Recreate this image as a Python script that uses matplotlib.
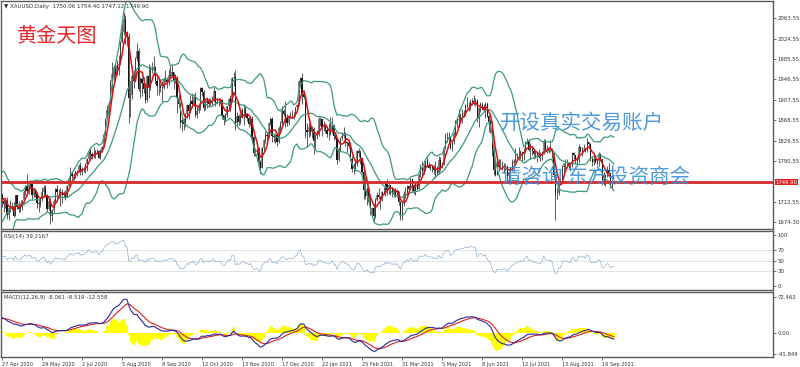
import matplotlib
matplotlib.use("Agg")
import matplotlib.pyplot as plt
import matplotlib.transforms as mtransforms
import numpy as np
import pandas as pd

# XAUUSD daily, 27 Apr 2020 - 27 Sep 2021
hist_closes = [
    1577, 1553, 1556, 1566, 1570,
    1572, 1568, 1565, 1576, 1584,
    1582, 1602, 1611, 1620, 1643,
    1659, 1636, 1641, 1642, 1585,
    1592, 1640, 1636, 1669, 1673,
    1679, 1650, 1636, 1576, 1529,
    1513, 1526, 1477, 1471, 1498,
    1553, 1632, 1617, 1630, 1618,
    1622, 1577, 1591, 1613, 1620,
    1663, 1648, 1646, 1683,
    1714, 1727, 1716, 1718, 1683,
    1694, 1686, 1713, 1730, 1727,
]

closes = [
    1713, 1708, 1713, 1686, 1700,
    1702, 1705, 1685, 1725, 1702,
    1698, 1702, 1715, 1731, 1743,
    1732, 1745, 1747, 1725, 1734,
    1728, 1710, 1708, 1719, 1730,
    1739, 1726, 1699, 1714, 1684,
    1697, 1714, 1737, 1730, 1730,
    1725, 1727, 1726, 1722, 1743,
    1754, 1768, 1761, 1763, 1771,
    1772, 1781, 1769, 1775, 1774,
    1784, 1795, 1809, 1803, 1799,
    1802, 1809, 1809, 1797, 1810,
    1818, 1842, 1871, 1889, 1902,
    1942, 1958, 1970, 1958, 1975,
    1977, 2019, 2038, 2063, 2035,
    2028, 1912, 1917, 1953, 1944,
    1986, 2002, 1929, 1947, 1940,
    1928, 1908, 1954, 1930, 1964,
    1967, 1970, 1944, 1935, 1934,
    1931, 1931, 1947, 1946, 1941,
    1956, 1954, 1960, 1944, 1950,
    1912, 1900, 1863, 1868, 1861,
    1880, 1898, 1886, 1905, 1899,
    1913, 1878, 1887, 1894, 1930,
    1922, 1891, 1902, 1908, 1899,
    1905, 1908, 1924, 1904, 1902,
    1902, 1908, 1878, 1868, 1879,
    1895, 1910, 1904, 1949, 1951,
    1863, 1877, 1866, 1874, 1889,
    1888, 1879, 1872, 1862, 1871,
    1837, 1805, 1807, 1811, 1788,
    1777, 1815, 1831, 1841, 1838,
    1864, 1871, 1838, 1836, 1840,
    1827, 1853, 1864, 1887, 1881,
    1872, 1863, 1875, 1877,
    1877, 1876, 1893, 1898,
    1943, 1950, 1918, 1913, 1849,
    1845, 1856, 1846, 1851, 1828,
    1839, 1840, 1871, 1870, 1856,
    1856, 1850, 1843, 1843, 1847,
    1860, 1838, 1834, 1793, 1814,
    1835, 1838, 1842, 1826, 1824,
    1819, 1795, 1775, 1775, 1784,
    1809, 1806, 1797, 1770, 1734,
    1724, 1737, 1712, 1697, 1700,
    1684, 1716, 1726, 1722, 1720,
    1731, 1731, 1746, 1735, 1745,
    1738, 1728, 1734, 1725, 1732,
    1712, 1684, 1708, 1728,
    1728, 1743, 1737, 1756, 1744,
    1732, 1746, 1737, 1764, 1777,
    1771, 1779, 1793, 1783, 1777,
    1780, 1777, 1773, 1772, 1768,
    1792, 1779, 1785, 1815, 1831,
    1836, 1836, 1815, 1826, 1843,
    1867, 1869, 1870, 1877, 1881,
    1882, 1898, 1896, 1896, 1904,
    1906, 1903, 1908, 1871, 1891,
    1899, 1894, 1889, 1899, 1877,
    1866, 1859, 1812, 1774, 1764,
    1782, 1778, 1779, 1776, 1781,
    1779, 1761, 1770, 1776, 1787,
    1791, 1796, 1803, 1803, 1808,
    1806, 1808, 1825, 1829, 1812,
    1812, 1810, 1804, 1806, 1801,
    1798, 1799, 1807, 1828, 1813,
    1813, 1810, 1812, 1804, 1763,
    1729, 1729, 1752, 1752, 1779,
    1786, 1787, 1787, 1781, 1781,
    1805, 1802, 1790, 1792, 1817,
    1810, 1813, 1815, 1809, 1827,
    1822, 1794, 1788, 1794, 1788,
    1793, 1804, 1794, 1754, 1754,
    1763, 1774, 1768, 1743, 1750, 1749.90,
]

highs = [
    1729, 1718, 1718, 1722, 1703,
    1716, 1712, 1711, 1726, 1722,
    1714, 1709, 1716, 1735, 1744,
    1765, 1747, 1753, 1748, 1738,
    1737, 1731, 1717, 1722, 1740,
    1745, 1744, 1728, 1716, 1719,
    1699, 1717, 1739, 1744, 1736,
    1738, 1737, 1732, 1734, 1745,
    1756, 1779, 1770, 1768, 1772,
    1773, 1785, 1789, 1778, 1778,
    1786, 1796, 1810, 1818, 1808,
    1817, 1811, 1813, 1811, 1814,
    1820, 1843, 1873, 1898, 1904,
    1945, 1981, 1974, 1976, 1984,
    1993, 2021, 2055, 2075, 2070,
    2040, 2035, 1944, 1958, 1965,
    1990, 2016, 2007, 1951, 1951,
    1951, 1939, 1956, 1976, 1973,
    1980, 1992, 1972, 1952, 1945,
    1938, 1943, 1952, 1965, 1952,
    1966, 1973, 1975, 1961, 1958,
    1954, 1917, 1904, 1877, 1873,
    1883, 1900, 1902, 1917, 1921,
    1918, 1922, 1896, 1899, 1933,
    1932, 1926, 1908, 1910, 1912,
    1911, 1915, 1932, 1925, 1911,
    1911, 1912, 1910, 1878, 1883,
    1896, 1911, 1916, 1951, 1960,
    1965, 1885, 1881, 1881, 1892,
    1899, 1896, 1883, 1874, 1875,
    1876, 1839, 1816, 1815, 1817,
    1793, 1817, 1833, 1848, 1846,
    1866, 1875, 1875, 1842, 1844,
    1844, 1857, 1867, 1896, 1890,
    1906, 1880, 1879, 1884,
    1889, 1884, 1894, 1900,
    1945, 1952, 1959, 1926, 1917,
    1864, 1863, 1866, 1857, 1855,
    1842, 1850, 1874, 1875, 1870,
    1867, 1862, 1858, 1864, 1875,
    1875, 1862, 1843, 1837, 1817,
    1836, 1845, 1855, 1846, 1827,
    1832, 1826, 1799, 1786, 1790,
    1812, 1816, 1812, 1798, 1775,
    1760, 1740, 1739, 1722, 1701,
    1707, 1719, 1730, 1739, 1723,
    1732, 1740, 1750, 1755, 1746,
    1745, 1740, 1737, 1739, 1737,
    1733, 1713, 1714, 1733,
    1740, 1745, 1745, 1758, 1757,
    1747, 1748, 1749, 1766, 1785,
    1790, 1785, 1794, 1798, 1789,
    1784, 1782, 1783, 1790, 1780,
    1799, 1798, 1788, 1818, 1844,
    1845, 1845, 1839, 1828, 1845,
    1868, 1873, 1890, 1882, 1890,
    1889, 1900, 1913, 1904, 1909,
    1911, 1916, 1911, 1909, 1894,
    1903, 1904, 1900, 1903, 1903,
    1879, 1870, 1867, 1818, 1792,
    1790, 1794, 1795, 1790, 1787,
    1786, 1782, 1771, 1778, 1795,
    1795, 1815, 1806, 1818, 1811,
    1810, 1815, 1829, 1834, 1833,
    1825, 1819, 1815, 1812, 1810,
    1813, 1808, 1810, 1832, 1832,
    1821, 1817, 1831, 1816, 1806,
    1763, 1741, 1755, 1758, 1782,
    1787, 1795, 1794, 1789, 1786,
    1808, 1807, 1802, 1796, 1823,
    1820, 1817, 1823, 1816, 1834,
    1827, 1824, 1800, 1802, 1800,
    1796, 1808, 1806, 1795, 1770,
    1765, 1780, 1787, 1768, 1753, 1754.40,
]

lows = [
    1702, 1692, 1700, 1680, 1677,
    1692, 1697, 1683, 1684, 1699,
    1692, 1692, 1697, 1712, 1725,
    1723, 1728, 1739, 1717, 1722,
    1721, 1700, 1693, 1703, 1713,
    1725, 1721, 1693, 1697, 1670,
    1675, 1693, 1712, 1720, 1720,
    1704, 1710, 1721, 1716, 1721,
    1741, 1752, 1758, 1754, 1757,
    1762, 1769, 1763, 1764, 1770,
    1768, 1772, 1794, 1797, 1795,
    1797, 1797, 1803, 1796, 1795,
    1807, 1817, 1841, 1868, 1883,
    1901, 1923, 1943, 1947, 1955,
    1956, 1975, 2016, 2031, 2015,
    2010, 1863, 1875, 1910, 1931,
    1943, 1982, 1925, 1911, 1914,
    1920, 1901, 1903, 1911, 1927,
    1959, 1955, 1937, 1916, 1917,
    1922, 1906, 1928, 1942, 1930,
    1936, 1949, 1951, 1929, 1940,
    1882, 1893, 1853, 1848, 1850,
    1856, 1873, 1870, 1882, 1893,
    1896, 1874, 1873, 1882, 1889,
    1914, 1886, 1888, 1892, 1894,
    1898, 1897, 1904, 1895, 1900,
    1896, 1900, 1870, 1859, 1865,
    1875, 1888, 1886, 1904, 1935,
    1850, 1860, 1860, 1862, 1872,
    1860, 1874, 1867, 1855, 1859,
    1830, 1800, 1800, 1802, 1775,
    1765, 1776, 1807, 1825, 1825,
    1835, 1860, 1826, 1826, 1825,
    1820, 1825, 1848, 1859, 1876,
    1855, 1857, 1860, 1872,
    1872, 1871, 1876, 1886,
    1900, 1935, 1900, 1909, 1835,
    1817, 1837, 1838, 1835, 1803,
    1814, 1832, 1838, 1858, 1838,
    1848, 1844, 1836, 1830, 1840,
    1844, 1831, 1832, 1785, 1791,
    1810, 1831, 1835, 1820, 1808,
    1816, 1790, 1769, 1765, 1771,
    1780, 1798, 1785, 1766, 1717,
    1717, 1706, 1710, 1687, 1687,
    1676, 1682, 1713, 1718, 1699,
    1714, 1727, 1723, 1726, 1727,
    1725, 1722, 1722, 1722, 1721,
    1706, 1677, 1678, 1705,
    1719, 1726, 1735, 1734, 1731,
    1728, 1726, 1734, 1736, 1760,
    1762, 1765, 1772, 1778, 1776,
    1773, 1770, 1765, 1758, 1763,
    1765, 1771, 1776, 1783, 1814,
    1826, 1822, 1813, 1809, 1823,
    1841, 1856, 1855, 1865, 1864,
    1875, 1876, 1892, 1887, 1889,
    1898, 1898, 1896, 1865, 1856,
    1885, 1889, 1886, 1872, 1875,
    1845, 1844, 1800, 1763, 1761,
    1767, 1771, 1775, 1773, 1768,
    1771, 1750, 1751, 1765, 1772,
    1784, 1788, 1790, 1793, 1795,
    1791, 1793, 1805, 1822, 1809,
    1794, 1801, 1795, 1796, 1789,
    1796, 1791, 1793, 1804, 1809,
    1805, 1806, 1807, 1797, 1757,
    1677, 1717, 1726, 1745, 1747,
    1767, 1775, 1779, 1776, 1772,
    1779, 1794, 1785, 1781, 1787,
    1808, 1800, 1810, 1808, 1808,
    1818, 1791, 1781, 1782, 1787,
    1782, 1780, 1791, 1745, 1745,
    1742, 1760, 1765, 1738, 1737, 1747.12,
]

first_open = 1727
last_open = 1750.06
level_price = 1749.90

main_ticks = [2063.55, 2024.55, 1985.55, 1946.55, 1907.55, 1868.55,
              1829.55, 1790.55, 1712.55, 1674.30]
rsi_ticks = [100, 70, 50, 30, 0]
macd_ticks = [72.462, 0.0, -41.849]

# trading days shown by the terminal (no bars on 25 Dec, 1 Jan, Good Friday)
days = pd.bdate_range("2020-04-27", "2021-09-27")
days = days.drop(pd.to_datetime(["2020-12-25", "2021-01-01", "2021-04-02"]))
n = len(closes)
if not (n == len(highs) == len(lows) == len(days)):
    raise SystemExit(f"length mismatch {n} {len(highs)} {len(lows)} {len(days)}")

x = np.arange(n)
c = np.array(closes, dtype=float)
opens = np.r_[first_open, c[:-1]]
opens[-1] = last_open
hi = np.maximum(np.array(highs, float), np.maximum(opens, c))
lo = np.minimum(np.array(lows, float), np.minimum(opens, c))

# indicators on full history
allc = pd.Series(hist_closes + closes, dtype=float)
k = len(hist_closes)
ma = allc.rolling(5).mean().values[k:]
mid = allc.rolling(20).mean()
sd = allc.rolling(20).std(ddof=0)
bb_up = (mid + 2 * sd).values[k:]
bb_lo = (mid - 2 * sd).values[k:]
bb_mid = mid.values[k:]

d = allc.diff()
gain = d.clip(lower=0).ewm(alpha=1 / 14, adjust=False).mean()
loss = (-d.clip(upper=0)).ewm(alpha=1 / 14, adjust=False).mean()
rsi = (100 - 100 / (1 + gain / loss)).values[k:]

macd = allc.ewm(span=12, adjust=False).mean() - allc.ewm(span=26, adjust=False).mean()
signal = macd.ewm(span=9, adjust=False).mean()
osma = 2 * (macd - signal)
macd, signal, osma = macd.values[k:], signal.values[k:], osma.values[k:]

# ---- figure, MT4-like layout ----
W, H = 800, 367
fig = plt.figure(figsize=(W / 100, H / 100), dpi=100)
left, width = 1 / W, 772 / W
ax = fig.add_axes([left, 1 - 229 / H, width, 228 / H])
ax_rsi = fig.add_axes([left, 1 - 290 / H, width, 59 / H])
ax_macd = fig.add_axes([left, 1 - 357 / H, width, 65 / H])

xlim = (-0.6, 462.5)
lab = dict(fontsize=4.0, color="#333333")

for a in (ax, ax_rsi, ax_macd):
    a.set_xlim(*xlim)
    for s in a.spines.values():
        s.set_color("#5a5a5a")
        s.set_linewidth(1.0)
    a.yaxis.tick_right()
    a.tick_params(axis="y", length=2, width=0.5, pad=1.5, labelsize=3.9,
                  colors="#333333")
    a.tick_params(axis="x", length=0, labelbottom=False)

# main: candles, MA, bands
up = c >= opens
ax.vlines(x, lo, hi, color="#1a1a1a", lw=0.5)
ax.bar(x[up], (c - opens)[up], bottom=opens[up], width=0.7,
       color="#8a8a8a", edgecolor="none")
ax.bar(x[~up], (opens - c)[~up], bottom=c[~up], width=0.7,
       color="#111111", edgecolor="none")
band_col = "#3c9a7c"
ax.plot(x, bb_up, color=band_col, lw=0.9)
ax.plot(x, bb_mid, color=band_col, lw=0.9)
ax.plot(x, bb_lo, color=band_col, lw=0.9)
ax.plot(x, ma, color="#e01010", lw=1.1)
ax.axhline(level_price, color="#d42a2a", lw=2.0)
ax.set_ylim(1660, 2097)
ax.set_yticks(main_ticks)
ax.set_yticklabels([f"{v:.2f}" for v in main_ticks])
tr = mtransforms.blended_transform_factory(ax.transAxes, ax.transData)
ax.text(1.003, level_price, f"{level_price:.2f}", transform=tr, fontsize=3.9,
        color="white", va="center", ha="left",
        bbox=dict(boxstyle="square,pad=0.15", fc="#e02020", ec="none"))
ax.text(0.004, 0.985, "\u25BC XAUUSD,Daily  1750.06 1754.40 1747.12 1749.90",
        transform=ax.transAxes, va="top", ha="left", **lab)

# RSI
for lvl in (70, 50, 30):
    ax_rsi.axhline(lvl, color="#dcdcdc", lw=0.6)
ax_rsi.plot(x, rsi, color="#9ab6d2", lw=0.55)
ax_rsi.set_ylim(-7, 108)
ax_rsi.set_yticks(rsi_ticks)
ax_rsi.set_yticklabels([str(v) for v in rsi_ticks])
ax_rsi.text(0.004, 0.95, "RSI(14) 39.2167", transform=ax_rsi.transAxes,
            va="top", ha="left", **lab)

# MACD
ax_macd.bar(x, osma, width=1.0, color="#ffff00", edgecolor="none")
ax_macd.plot(x, signal, color="#e02020", lw=0.8)
ax_macd.plot(x, macd, color="#2a2a9a", lw=0.8)
ax_macd.set_ylim(-47.7, 81.7)
ax_macd.set_yticks(macd_ticks)
ax_macd.set_yticklabels(["72.462", "0.00", "-41.849"])
ax_macd.text(0.004, 0.95, "MACD(12,26,9) -8.061 -8.519 -12.558",
             transform=ax_macd.transAxes, va="top", ha="left", **lab)

# date axis every 24 bars
tick_pos = x[::24]
ax_macd.set_xticks(tick_pos)
ax_macd.set_xticklabels([f"{days[i].day} {days[i]:%b %Y}" for i in tick_pos],
                        ha="left")
ax_macd.tick_params(axis="x", length=2, width=0.5, pad=1.5, labelbottom=True,
                    labelsize=3.6, colors="#333333")

# overlay texts
cjk = ["Noto Sans CJK SC", "DejaVu Sans"]
fig.text(17 / W, 1 - 36 / H, "黄金天图", family=cjk, fontsize=14.5,
         color="#e8282c", va="center", ha="left")
fig.text(500 / W, 1 - 123 / H, "开设真实交易账户", family=cjk, fontsize=14.8,
         color="#3b8fd8", va="center", ha="left", alpha=0.9)
fig.text(501 / W, 1 - 177 / H, "请咨询 东方投资商会", family=cjk, fontsize=14.8,
         color="#3b8fd8", va="center", ha="left", alpha=0.9)

fig.savefig("out.png", dpi=100)
